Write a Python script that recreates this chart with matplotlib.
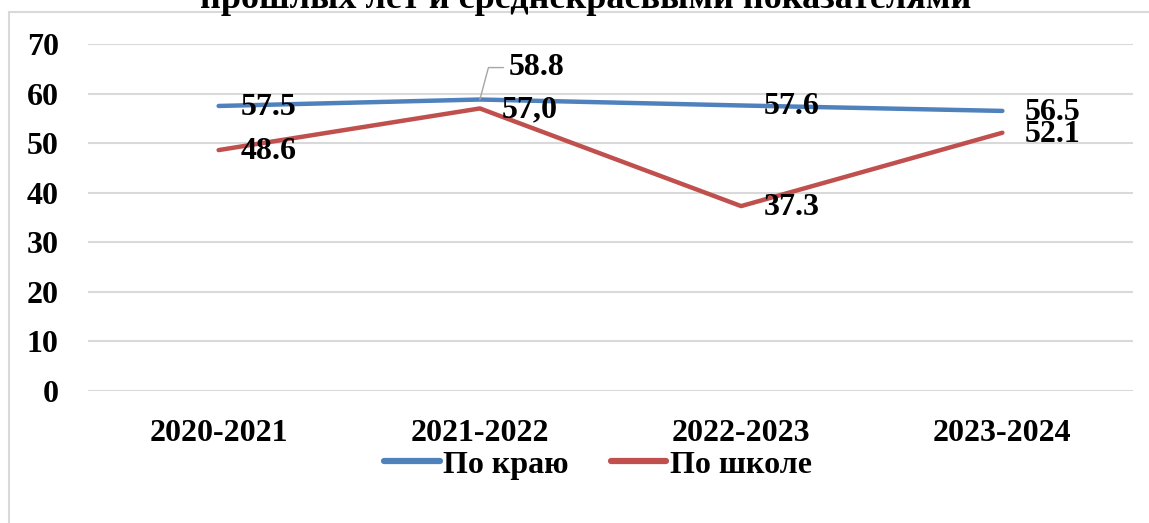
import matplotlib
matplotlib.use("Agg")
import matplotlib.pyplot as plt
from matplotlib.patches import Rectangle

categories = ["2020-2021", "2021-2022", "2022-2023", "2023-2024"]
kray = [57.5, 58.8, 57.6, 56.5]
school = [48.6, 57.0, 37.3, 52.1]
kray_labels = ["57.5", "58.8", "57.6", "56.5"]
school_labels = ["48.6", "57,0", "37.3", "52.1"]
yticks = [0, 10, 20, 30, 40, 50, 60, 70]
title = "прошлых лет и среднекраевыми показателями"

FONT = "Liberation Serif"
FS = 23
BLUE = "#4F81BD"
RED = "#C0504D"

fig = plt.figure(figsize=(11.49, 5.23), dpi=100)
W, H = 1149, 523
ax = fig.add_axes([88 / W, 1 - 391 / H, (1133 - 88) / W, (391 - 44) / H])

# chart border
fig.patches.append(Rectangle((9 / W, -0.1), 1.2, 1.1 - 12 / H, transform=fig.transFigure,
                             fill=False, edgecolor="#D9D9D9", linewidth=1.5, zorder=0))

x = list(range(len(categories)))
ax.plot(x, kray, color=BLUE, linewidth=3.2, solid_capstyle="round", label="По краю", zorder=3)
ax.plot(x, school, color=RED, linewidth=3.2, solid_capstyle="round", label="По школе", zorder=3)

ax.set_xlim(-0.5, 3.5)
ax.set_ylim(0, 70)
ax.set_yticks(yticks)
ax.set_xticks(x)
ax.set_xticklabels(categories)
ax.grid(axis="y", color="#D9D9D9", linewidth=1.5, zorder=0)
ax.set_axisbelow(True)
for s in ax.spines.values():
    s.set_visible(False)
ax.tick_params(axis="both", length=0, labelsize=FS)
ax.tick_params(axis="y", pad=21)
ax.tick_params(axis="x", pad=20)
for lab in ax.get_xticklabels() + ax.get_yticklabels():
    lab.set_fontfamily(FONT)
    lab.set_fontweight("bold")

tkw = dict(fontsize=FS, fontfamily=FONT, fontweight="bold", va="center", ha="left", zorder=5)
for i, (v, t) in enumerate(zip(kray, kray_labels)):
    if i == 1:
        continue
    ax.annotate(t, (i, v), xytext=(16, -1), textcoords="offset points", **tkw)
for i, (v, t) in enumerate(zip(school, school_labels)):
    ax.annotate(t, (i, v), xytext=(16, -1), textcoords="offset points", **tkw)

# leader-line label for 58.8
ax.annotate(kray_labels[1], (1, kray[1]), xytext=(21, 23), textcoords="offset points",
            fontsize=FS, fontfamily=FONT, fontweight="bold", va="center", ha="left", zorder=5,
            arrowprops=dict(arrowstyle="-", color="#A6A6A6", linewidth=1,
                            connectionstyle="angle,angleA=0,angleB=75,rad=0",
                            shrinkA=2, shrinkB=0))

leg = ax.legend(loc="center", bbox_to_anchor=(0.488, -0.213), ncol=2, frameon=False,
                prop=dict(family=FONT, weight="bold", size=FS), handlelength=1.75,
                handletextpad=0.1, columnspacing=1.3, borderpad=0)
for h in leg.get_lines():
    h.set_linewidth(4.5)

fig.text(0.51, 1 - 0 / H, title, ha="center", va="center", fontsize=FS + 3,
         fontfamily=FONT, fontweight="bold")

fig.savefig("out.png", dpi=100)
